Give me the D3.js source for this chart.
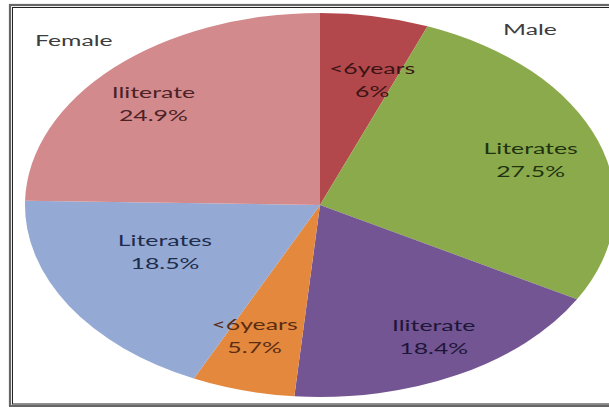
<!DOCTYPE html>
<html>
<head>
<meta charset="utf-8">
<script src="https://cdn.jsdelivr.net/npm/d3@7"></script>
<style>
  html, body { margin: 0; padding: 0; background: #fff; }
  svg { display: block; }
</style>
</head>
<body>
<svg id="chart" width="609" height="407"></svg>
<script>
// Population share by sex, literacy and age group (clockwise from 12 o'clock)
const categories = ["<6years", "Literates", "Iliterate", "<6years", "Literates", "Iliterate"];
const values     = [6, 27.5, 18.4, 5.7, 18.5, 24.9];
const valueLabels = ["6%", "27.5%", "18.4%", "5.7%", "18.5%", "24.9%"];
const groups     = ["Male", "Female"];

// Slice fills and label ink
const fills  = ["#b2484b", "#8baa4b", "#735593", "#e3883d", "#94a9d3", "#d38a8c"];
const inks   = ["#3b1414", "#1f3311", "#1e1638", "#5b2c12", "#1f2d4d", "#4b2225"];
// Label placement relative to each slice: radius fraction and angular shift (deg)
const labelRadius = [0.67, 0.75, 0.79, 0.72, 0.58, 0.77];
const labelShift  = [4.6, 1.8, -1.4, 2.8, 6.7, -2.8];

const svg = d3.select("#chart");
const W = 609, H = 407;
const cx = 320, cy = 205, ry = 192, rx = 295;
const sx = rx / ry;      // horizontal stretch of the pie
const textStretch = 1.55;

// frame
svg.append("rect").attr("x", 10).attr("y", 5).attr("width", 640).attr("height", 401)
  .attr("fill", "none").attr("stroke", "#666").attr("stroke-width", 2.2);
svg.append("rect").attr("x", 12.5).attr("y", 7.5).attr("width", 640).attr("height", 396.5)
  .attr("fill", "none").attr("stroke", "#222").attr("stroke-width", 1);

const data = categories.map((c, i) => ({ cat: c, value: values[i], label: valueLabels[i], i }));
const pie = d3.pie().sort(null).value(d => d.value).startAngle(0).endAngle(2 * Math.PI);
const arcs = pie(data);
const arc = d3.arc().innerRadius(0).outerRadius(ry);

const g = svg.append("g").attr("transform", `translate(${cx},${cy}) scale(${sx},1)`);
g.selectAll("path").data(arcs).join("path")
  .attr("d", arc)
  .attr("fill", d => fills[d.data.i]);

// data labels
const labels = svg.append("g")
  .style("font-family", "Lato, 'Open Sans', sans-serif")
  .style("font-size", "16px");

arcs.forEach(a => {
  const i = a.data.i;
  const ang = (a.startAngle + a.endAngle) / 2 + labelShift[i] * Math.PI / 180;
  const r = ry * labelRadius[i];
  const x = cx + Math.sin(ang) * r * sx;
  const y = cy - Math.cos(ang) * r;
  const t = labels.append("text")
    .attr("transform", `translate(${x},${y}) scale(${textStretch},1)`)
    .attr("text-anchor", "middle")
    .attr("fill", inks[i]);
  t.append("tspan").attr("x", 0).attr("y", -6.5).text(a.data.cat);
  t.append("tspan").attr("x", 0).attr("y", 16.5).text(a.data.label);
});

// group captions
const captions = [
  { text: groups[1], x: 35, y: 46 },
  { text: groups[0], x: 503, y: 35 }
];
svg.append("g")
  .style("font-family", "Lato, 'Open Sans', sans-serif")
  .style("font-size", "16px")
  .selectAll("text").data(captions).join("text")
  .attr("transform", d => `translate(${d.x},${d.y}) scale(${textStretch},1)`)
  .attr("fill", "#3d3d3d")
  .text(d => d.text);
</script>
</body>
</html>
